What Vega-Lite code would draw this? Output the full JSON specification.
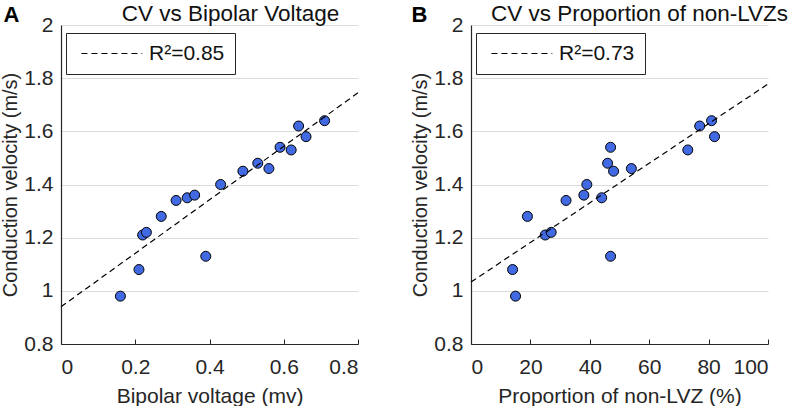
{
  "$schema": "https://vega.github.io/schema/vega-lite/v6.json",
  "padding": {"left": 0, "top": 2, "right": 0, "bottom": 0},
  "background": "white",
  "spacing": 49,
  "config": {
    "font": "Liberation Sans",
    "view": {"stroke": null},
    "axis": {
      "labelFont": "Liberation Sans", "titleFont": "Liberation Sans",
      "labelFontSize": 21, "titleFontSize": 21, "titleFontWeight": "normal",
      "labelColor": "#262626", "titleColor": "#262626",
      "domainColor": "#262626", "domainWidth": 1.2,
      "tickColor": "#262626", "gridColor": "#dcdcdc", "gridWidth": 1.2
    },
    "title": {"font": "Liberation Sans", "fontSize": 22.5, "fontWeight": "normal", "color": "#111111"}
  },
  "datasets": {
    "ptsA": [
      {"bv": 0.16, "cv": 0.98}, {"bv": 0.21, "cv": 1.08}, {"bv": 0.22, "cv": 1.21},
      {"bv": 0.23, "cv": 1.22}, {"bv": 0.27, "cv": 1.28}, {"bv": 0.31, "cv": 1.34},
      {"bv": 0.34, "cv": 1.35}, {"bv": 0.36, "cv": 1.36}, {"bv": 0.39, "cv": 1.13},
      {"bv": 0.43, "cv": 1.40}, {"bv": 0.49, "cv": 1.45}, {"bv": 0.53, "cv": 1.48},
      {"bv": 0.56, "cv": 1.46}, {"bv": 0.59, "cv": 1.54}, {"bv": 0.62, "cv": 1.53},
      {"bv": 0.64, "cv": 1.62}, {"bv": 0.66, "cv": 1.58}, {"bv": 0.71, "cv": 1.64}
    ],
    "fitA": [
      {"bv": 0, "cv": 0.94, "fit": "R²=0.85"},
      {"bv": 0.8, "cv": 1.745, "fit": "R²=0.85"}
    ],
    "ptsB": [
      {"p": 14, "cv": 1.08}, {"p": 15, "cv": 0.98}, {"p": 19, "cv": 1.28},
      {"p": 25, "cv": 1.21}, {"p": 27, "cv": 1.22}, {"p": 32, "cv": 1.34},
      {"p": 38, "cv": 1.36}, {"p": 39, "cv": 1.40}, {"p": 44, "cv": 1.35},
      {"p": 46, "cv": 1.48}, {"p": 47, "cv": 1.54}, {"p": 47, "cv": 1.13},
      {"p": 48, "cv": 1.45}, {"p": 54, "cv": 1.46}, {"p": 73, "cv": 1.53},
      {"p": 77, "cv": 1.62}, {"p": 81, "cv": 1.64}, {"p": 82, "cv": 1.58}
    ],
    "fitB": [
      {"p": 0, "cv": 1.033, "fit": "R²=0.73"},
      {"p": 100, "cv": 1.778, "fit": "R²=0.73"}
    ]
  },
  "hconcat": [
    {
      "width": 297, "height": 319,
      "title": {"text": "CV vs Bipolar Voltage", "anchor": "middle", "dx": 21, "offset": -22},
      "resolve": {"axis": {"x": "independent"}},
      "layer": [
        {
          "data": {"name": "ptsA"},
          "mark": {"type": "circle", "size": 100, "fill": "#4169E1", "stroke": "#000000", "strokeWidth": 1, "opacity": 1},
          "encoding": {
            "x": {"field": "bv", "type": "quantitative", "scale": {"domain": [0, 0.8], "nice": false, "zero": false},
                  "axis": {"title": "Bipolar voltage (mv)", "values": [0, 0.2, 0.4, 0.6, 0.8], "format": ".1~f", "grid": false, "tickSize": -5, "labelPadding": 17, "titlePadding": 8}},
            "y": {"field": "cv", "type": "quantitative", "scale": {"domain": [0.8, 2], "nice": false, "zero": false},
                  "axis": {"title": "Conduction velocity (m/s)", "titleFontSize": 20, "values": [0.8, 1, 1.2, 1.4, 1.6, 1.8, 2], "format": ".1~f", "grid": true, "tickSize": 0, "labelPadding": 8, "titlePadding": 3}}
          }
        },
        {
          "data": {"name": "fitA"},
          "mark": {"type": "line", "strokeDash": [6, 4], "strokeWidth": 1.2},
          "encoding": {
            "x": {"field": "bv", "type": "quantitative",
                  "axis": {"orient": "top", "title": "A", "labels": false, "ticks": false, "domain": false, "grid": false,
                           "titleFontWeight": "bold", "titleFontSize": 22, "titleColor": "#000000", "titleAnchor": "start", "titleAlign": "left", "titleBaseline": "alphabetic", "titleX": -58, "titleY": -4}},
            "y": {"field": "cv", "type": "quantitative"},
            "color": {"field": "fit", "type": "nominal", "scale": {"range": ["#000000"]},
                      "legend": {"title": null, "orient": "none", "legendX": 5, "legendY": 8,
                                 "fillColor": "white", "strokeColor": "#262626", "padding": 10,
                                 "symbolType": "M-1,0H11", "symbolSize": 103, "symbolDash": [6, 4], "symbolStrokeWidth": 1.2, "symbolFillColor": "transparent",
                                 "labelFontSize": 21, "labelColor": "#111111", "labelOffset": 52, "labelFont": "Liberation Sans"}}
          }
        }
      ]
    },
    {
      "width": 297, "height": 319,
      "title": {"text": "CV vs Proportion of non-LVZs", "anchor": "middle", "dx": 20, "offset": -22},
      "resolve": {"axis": {"x": "independent"}},
      "layer": [
        {
          "data": {"name": "ptsB"},
          "mark": {"type": "circle", "size": 100, "fill": "#4169E1", "stroke": "#000000", "strokeWidth": 1, "opacity": 1},
          "encoding": {
            "x": {"field": "p", "type": "quantitative", "scale": {"domain": [0, 100], "nice": false, "zero": false},
                  "axis": {"title": "Proportion of non-LVZ (%)", "values": [0, 20, 40, 60, 80, 100], "grid": false, "tickSize": -5, "labelPadding": 17, "titlePadding": 8}},
            "y": {"field": "cv", "type": "quantitative", "scale": {"domain": [0.8, 2], "nice": false, "zero": false},
                  "axis": {"title": "Conduction velocity (m/s)", "titleFontSize": 20, "values": [0.8, 1, 1.2, 1.4, 1.6, 1.8, 2], "format": ".1~f", "grid": true, "tickSize": 0, "labelPadding": 8, "titlePadding": 3}}
          }
        },
        {
          "data": {"name": "fitB"},
          "mark": {"type": "line", "strokeDash": [6, 4], "strokeWidth": 1.2},
          "encoding": {
            "x": {"field": "p", "type": "quantitative",
                  "axis": {"orient": "top", "title": "B", "labels": false, "ticks": false, "domain": false, "grid": false,
                           "titleFontWeight": "bold", "titleFontSize": 22, "titleColor": "#000000", "titleAnchor": "start", "titleAlign": "left", "titleBaseline": "alphabetic", "titleX": -60, "titleY": -4}},
            "y": {"field": "cv", "type": "quantitative"},
            "color": {"field": "fit", "type": "nominal", "scale": {"range": ["#000000"]},
                      "legend": {"title": null, "orient": "none", "legendX": 5, "legendY": 8,
                                 "fillColor": "white", "strokeColor": "#262626", "padding": 10,
                                 "symbolType": "M-1,0H11", "symbolSize": 103, "symbolDash": [6, 4], "symbolStrokeWidth": 1.2, "symbolFillColor": "transparent",
                                 "labelFontSize": 21, "labelColor": "#111111", "labelOffset": 52, "labelFont": "Liberation Sans"}}
          }
        }
      ]
    }
  ],
  "resolve": {"scale": {"color": "independent"}, "legend": {"color": "independent"}}
}
